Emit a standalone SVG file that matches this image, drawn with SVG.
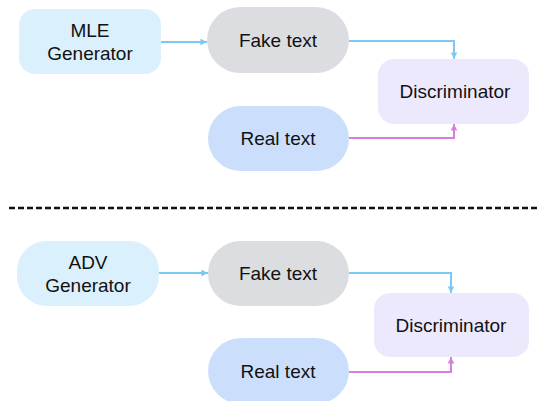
<svg xmlns="http://www.w3.org/2000/svg" width="537" height="401" viewBox="0 0 537 401">
  <defs>
    <marker id="arrowBlue" viewBox="0 0 10 10" refX="10" refY="5" markerWidth="3.3" markerHeight="3.3" orient="auto">
      <path d="M0,0 L10,5 L0,10 Z" fill="#7cc9f6"/>
    </marker>
    <marker id="arrowPink" viewBox="0 0 10 10" refX="10" refY="5" markerWidth="3.3" markerHeight="3.3" orient="auto">
      <path d="M0,0 L10,5 L0,10 Z" fill="#d77fdf"/>
    </marker>
  </defs>
  <style>
    .gen { fill: #dbf0fd; }
    .fake { fill: #dcdde0; }
    .real { fill: #cbdffc; }
    .disc { fill: #ede9fd; }
    .label { font-family: "Liberation Sans", Arial, sans-serif; font-size: 19px; fill: #111111; text-anchor: middle; }
    .flow-blue { fill: none; stroke: #7cc9f6; stroke-width: 2; marker-end: url(#arrowBlue); }
    .flow-pink { fill: none; stroke: #d77fdf; stroke-width: 2; marker-end: url(#arrowPink); }
    .divider { stroke: #111111; stroke-width: 2.5; stroke-dasharray: 6 3; }
  </style>

  <!-- upper pipeline: MLE training -->
  <g id="mle-generator">
    <rect class="gen" x="19" y="9" width="142" height="65" rx="16"/>
    <text class="label" x="90" y="37">MLE</text>
    <text class="label" x="90" y="60">Generator</text>
  </g>
  <g id="fake-text-1">
    <rect class="fake" x="207" y="7" width="142" height="66" rx="33"/>
    <text class="label" x="278" y="47">Fake text</text>
  </g>
  <g id="real-text-1">
    <rect class="real" x="208" y="106" width="141" height="65" rx="32.5"/>
    <text class="label" x="278" y="145">Real text</text>
  </g>
  <g id="discriminator-1">
    <rect class="disc" x="378" y="59" width="151" height="65" rx="16"/>
    <text class="label" x="455" y="98">Discriminator</text>
  </g>

  <!-- lower pipeline: adversarial training -->
  <g id="adv-generator">
    <rect class="gen" x="17" y="241" width="142" height="65" rx="30"/>
    <text class="label" x="88" y="269">ADV</text>
    <text class="label" x="88" y="292">Generator</text>
  </g>
  <g id="fake-text-2">
    <rect class="fake" x="208" y="241" width="141" height="65" rx="32.5"/>
    <text class="label" x="278" y="280">Fake text</text>
  </g>
  <g id="real-text-2">
    <rect class="real" x="208" y="338" width="141" height="66" rx="33"/>
    <text class="label" x="278" y="378">Real text</text>
  </g>
  <g id="discriminator-2">
    <rect class="disc" x="374" y="293" width="155" height="64" rx="16"/>
    <text class="label" x="451" y="332">Discriminator</text>
  </g>

  <!-- section divider -->
  <line class="divider" x1="9" y1="208" x2="537" y2="208"/>

  <g id="connectors">
    <path class="flow-blue" d="M161,42 H207"/>
    <path class="flow-blue" d="M349,41 H454 V59"/>
    <path class="flow-pink" d="M349,138 H454 V124"/>
    <path class="flow-blue" d="M159,273 H208"/>
    <path class="flow-blue" d="M349,273 H451 V293"/>
    <path class="flow-pink" d="M349,372 H451 V357"/>
  </g>
</svg>
